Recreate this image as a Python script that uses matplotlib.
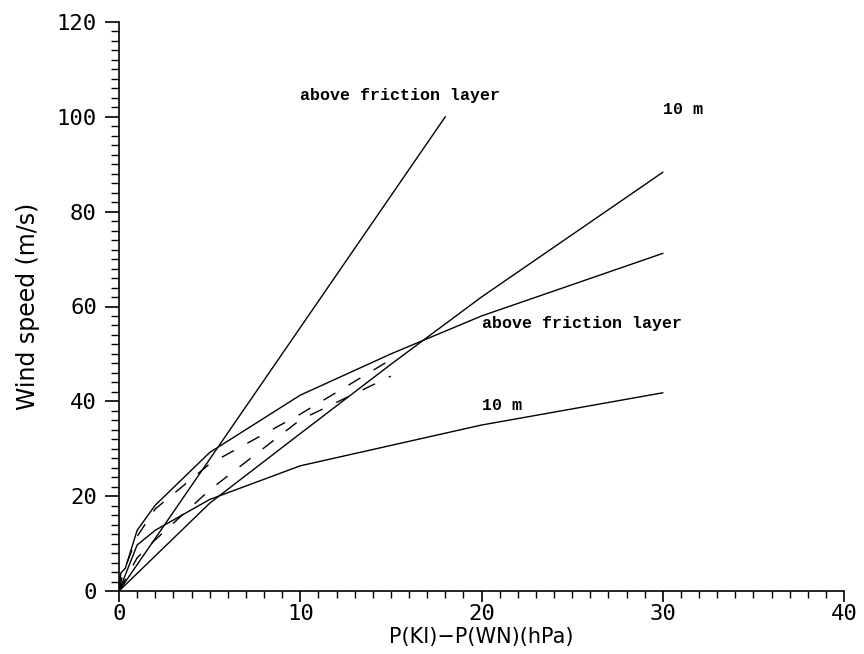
import matplotlib.pyplot as plt
from matplotlib.ticker import MultipleLocator


# pressure difference (hPa) and wind speed (m/s) for each curve
x_geo = [0, 18]
v_geo = [0, 100]

x_geo10 = [0, 5, 10, 15, 20, 30]
v_geo10 = [0, 18.5, 33.2, 47.8, 62.0, 88.3]

x_fric = [0, 0.1, 0.35, 1, 2, 5, 10, 15, 20, 30]
v_fric = [0, 3.8, 4.8, 12.8, 18.1, 29.2, 41.3, 50.0, 58.0, 71.2]

x_fric10 = [0, 1, 2, 5, 10, 20, 30]
v_fric10 = [0, 9.7, 12.8, 19.3, 26.4, 35.0, 41.8]

x_obs_up = [0, 0.2, 1, 2, 5, 10, 15]
v_obs_up = [0, 3.5, 11.5, 17.3, 26.8, 37.3, 48.8]

x_obs_low = [0, 1, 2, 5, 10, 15]
v_obs_low = [0, 7.0, 10.8, 21.3, 36.1, 45.3]

labels = [
    (10.0, 104.5, 'above friction layer'),
    (30.0, 101.5, '10 m'),
    (20.0, 56.5, 'above friction layer'),
    (20.0, 39.2, '10 m'),
]


def main():
    fig = plt.figure(figsize=(8.64, 6.54), dpi=100)
    ax = fig.add_axes([119 / 864, 1 - 591 / 654, 725 / 864, 569 / 654])

    lw = 1.0
    ax.plot(x_geo, v_geo, color='black', lw=lw)
    ax.plot(x_geo10, v_geo10, color='black', lw=lw)
    ax.plot(x_fric, v_fric, color='black', lw=lw)
    ax.plot(x_fric10, v_fric10, color='black', lw=lw)
    ax.plot(x_obs_up, v_obs_up, color='black', lw=lw, dashes=(10, 11))
    ax.plot(x_obs_low, v_obs_low, color='black', lw=lw, dashes=(10, 11))

    for x, y, s in labels:
        ax.text(x, y, s, ha='left', va='center', family='Liberation Mono',
                weight='bold', fontsize=12)

    ax.set_xlim(0, 40)
    ax.set_ylim(0, 120)
    ax.xaxis.set_major_locator(MultipleLocator(10))
    ax.xaxis.set_minor_locator(MultipleLocator(1))
    ax.yaxis.set_major_locator(MultipleLocator(20))
    ax.yaxis.set_minor_locator(MultipleLocator(2))

    ax.spines['top'].set_visible(False)
    ax.spines['right'].set_visible(False)
    for side in ['left', 'bottom']:
        ax.spines[side].set_linewidth(1.2)

    ax.tick_params(axis='x', which='major', direction='out', length=8, width=1.2, pad=1)
    ax.tick_params(axis='x', which='minor', direction='out', length=5, width=1.0)
    ax.tick_params(axis='y', which='major', direction='out', length=10, width=1.2, pad=6)
    ax.tick_params(axis='y', which='minor', direction='out', length=6, width=1.0)
    for lab in ax.get_xticklabels() + ax.get_yticklabels():
        lab.set_fontsize(16)
        lab.set_family('DejaVu Sans Mono')

    ax.set_xlabel('P(KI)\u2212P(WN)(hPa)', fontsize=15)
    ax.set_ylabel('Wind speed (m/s)', fontsize=17)
    ax.xaxis.set_label_coords(0.5, -0.064)
    ax.yaxis.set_label_coords(-0.109, 0.5)

    fig.savefig('out.png', dpi=100)
    plt.close(fig)


if __name__ == '__main__':
    main()
